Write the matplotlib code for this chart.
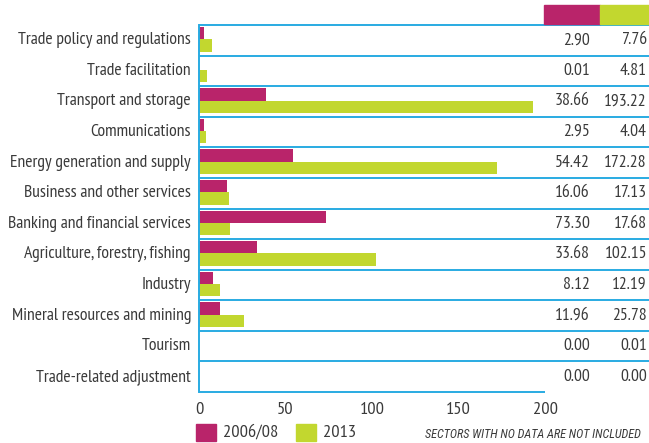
import matplotlib
matplotlib.use("Agg")
import matplotlib.pyplot as plt
from matplotlib.patches import Rectangle

plt.rcParams['font.family'] = ['PT Sans Narrow', 'DejaVu Sans']

sectors = [
    "Trade policy and regulations",
    "Trade facilitation",
    "Transport and storage",
    "Communications",
    "Energy generation and supply",
    "Business and other services",
    "Banking and financial services",
    "Agriculture, forestry, fishing",
    "Industry",
    "Mineral resources and mining",
    "Tourism",
    "Trade-related adjustment",
]
vals_0608 = [2.90, 0.01, 38.66, 2.95, 54.42, 16.06, 73.30, 33.68, 8.12, 11.96, 0.00, 0.00]
vals_2013 = [7.76, 4.81, 193.22, 4.04, 172.28, 17.13, 17.68, 102.15, 12.19, 25.78, 0.01, 0.00]
x_ticks = [0, 50, 100, 150, 200]
series_names = ["2006/08", "2013"]

MAGENTA = "#B9246A"
GREEN = "#C2D72F"
BLUE = "#29ABE2"
TEXT = "#3a3a3a"
FS = 12.7

W, H = 649, 443
fig = plt.figure(figsize=(W / 100, H / 100), dpi=100)

# axes in pixel terms: x 199..545, y 25..392
ax_l, ax_r, ax_t, ax_b = 199, 545, 25, 392
ax = fig.add_axes([ax_l / W, 1 - ax_b / H, (ax_r - ax_l) / W, (ax_b - ax_t) / H])
n = len(sectors)
ax.set_xlim(0, 200)
ax.set_ylim(n, 0)

ys = range(n)
ax.barh([i + 0.27 for i in ys], vals_0608, height=0.4, color=MAGENTA, align='center')
ax.barh([i + 0.67 for i in ys], vals_2013, height=0.4, color=GREEN, align='center')

for s in ax.spines.values():
    s.set_visible(False)
ax.set_yticks([])
ax.set_xticks(x_ticks)
ax.set_xticklabels([str(t) for t in x_ticks], fontsize=FS + 0.5, color=TEXT)
ax.tick_params(axis='x', length=0, pad=7)

# row separators extending into the value table
x_right = (W - ax_l) / (ax_r - ax_l)
for i in range(n):
    ax.plot([0, x_right], [i, i], transform=ax.get_yaxis_transform(),
            color=BLUE, lw=1.4, clip_on=False, solid_capstyle='butt')
ax.plot([0, 1], [n, n], transform=ax.get_yaxis_transform(),
        color=BLUE, lw=1.4, clip_on=False, solid_capstyle='butt')
ax.plot([0, 0], [0, n], color=BLUE, lw=1.4, clip_on=False)

# sector labels and value columns
col1 = (590 - ax_l) / (ax_r - ax_l)
col2 = (647 - ax_l) / (ax_r - ax_l)
lab = (191 - ax_l) / (ax_r - ax_l)
for i, name in enumerate(sectors):
    ax.text(lab, i + 0.5, name, transform=ax.get_yaxis_transform(),
            ha='right', va='center', fontsize=FS, color=TEXT)
    ax.text(col1, i + 0.5, f"{vals_0608[i]:.2f}", transform=ax.get_yaxis_transform(),
            ha='right', va='center', fontsize=FS, color=TEXT)
    ax.text(col2, i + 0.5, f"{vals_2013[i]:.2f}", transform=ax.get_yaxis_transform(),
            ha='right', va='center', fontsize=FS, color=TEXT)

# header colour blocks
fig.patches.append(Rectangle((544 / W, 1 - 24 / H), 56 / W, 19 / H,
                             transform=fig.transFigure, color=MAGENTA))
fig.patches.append(Rectangle((600 / W, 1 - 24 / H), 49 / W, 19 / H,
                             transform=fig.transFigure, color=GREEN))

# legend
for x0, c, name in [(196, MAGENTA, series_names[0]), (296, GREEN, series_names[1])]:
    fig.patches.append(Rectangle((x0 / W, 1 - 441 / H), 20 / W, 17 / H,
                                 transform=fig.transFigure, color=c))
    fig.text((x0 + 27) / W, 1 - 433 / H, name, ha='left', va='center',
             fontsize=FS + 0.5, color=TEXT)

fig.text(425 / W, 1 - 435 / H, "SECTORS WITH NO DATA ARE NOT INCLUDED",
         ha='left', va='center', fontsize=8.8, style='italic', color=TEXT,
         family=['Roboto Condensed', 'DejaVu Sans'])

fig.savefig("out.png", dpi=100)
